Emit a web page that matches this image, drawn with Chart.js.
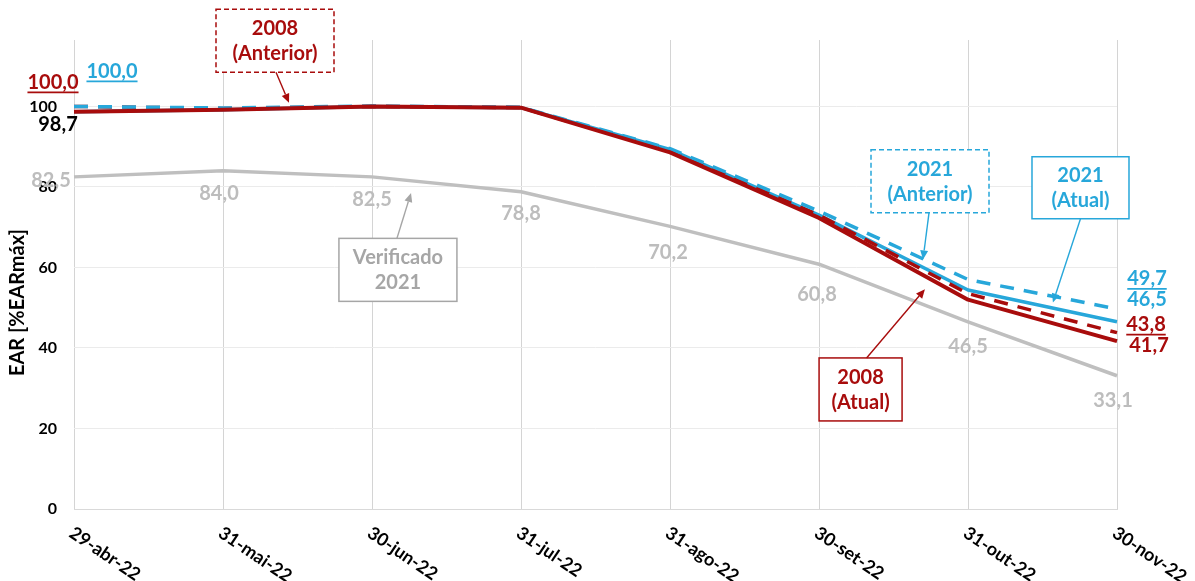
<!DOCTYPE html>
<html>
<head>
<meta charset="utf-8">
<title>EAR [%EARmáx]</title>
<script src="https://cdn.jsdelivr.net/npm/chart.js@4/dist/chart.umd.min.js"></script>
<style>
  html, body { margin: 0; padding: 0; background: #ffffff; }
  #wrap { width: 1195px; height: 581px; }
</style>
</head>
<body>
<div id="wrap"><canvas id="c" width="1195" height="581"></canvas></div>
<script>
// Categories (month-end dates)
const labels = ['29-abr-22', '31-mai-22', '30-jun-22', '31-jul-22', '31-ago-22', '30-set-22', '31-out-22', '30-nov-22'];

// Stored energy, % of maximum
const verified2021 = [82.5, 84.0, 82.5, 78.8, 70.2, 60.8, 46.5, 33.1];
const current2008  = [98.7, 99.2, 100.0, 99.7, 88.6, 72.3, 52.0, 41.7];
const previous2008 = [100.0, 99.5, 100.0, 99.7, 88.9, 73.0, 53.5, 43.8];
const current2021  = [98.7, 99.2, 100.0, 99.7, 89.3, 73.0, 54.4, 46.5];
const previous2021 = [100.0, 99.6, 100.1, 99.8, 89.5, 74.0, 57.0, 49.7];

// Y axis tick values
const yTickValues = [0, 20, 40, 60, 80, 100];

const RED = '#A80C0C';
const BLUE = '#27A7DA';
const GRAY = '#BFBFBF';
const GRAY_TEXT = '#BDBDBD';
const FONT = 'Lato, "Open Sans", "DejaVu Sans", sans-serif';

const fmt = v => v.toFixed(1).replace('.', ',');

// Value labels attached to points: dataset key, point index, pixel offset
const valueNotes = [
  { set: 'verified', i: 0, dx: -23, dy: 4, color: GRAY_TEXT },
  { set: 'verified', i: 1, dx: -4, dy: 23, color: GRAY_TEXT },
  { set: 'verified', i: 2, dx: 0, dy: 23, color: GRAY_TEXT },
  { set: 'verified', i: 3, dx: 0, dy: 22, color: GRAY_TEXT },
  { set: 'verified', i: 4, dx: -2, dy: 26, color: GRAY_TEXT },
  { set: 'verified', i: 5, dx: -2, dy: 30, color: GRAY_TEXT },
  { set: 'verified', i: 6, dx: 0, dy: 25, color: GRAY_TEXT },
  { set: 'verified', i: 7, dx: -4, dy: 25, color: GRAY_TEXT },
  { set: 'prev2008', i: 0, dx: -21, dy: -24, color: RED, underline: true },
  { set: 'prev2021', i: 0, dx: 38, dy: -35, color: BLUE, underline: true },
  { set: 'cur2008', i: 0, dx: -16, dy: 13, color: '#000000' },
  { set: 'prev2021', i: 7, dx: 30, dy: -30, color: BLUE, underline: true },
  { set: 'cur2021', i: 7, dx: 30, dy: -22, color: BLUE },
  { set: 'prev2008', i: 7, dx: 29, dy: -8, color: RED, underline: true },
  { set: 'cur2008', i: 7, dx: 32, dy: 4, color: RED }
];

// Callout boxes, placed in axis units (category index, value)
const callouts = [
  { lines: ['2008', '(Anterior)'], color: RED, text: RED, dashed: true,
    at: [1.349, 116.3], w: 118, h: 63, side: 'bottom', sdx: 1, tip: [1.443, 100.9] },
  { lines: ['Verificado', '2021'], color: '#A6A6A6', text: '#A6A6A6', dashed: false,
    at: [2.174, 59.4], w: 118, h: 63, side: 'top', sdx: -1, tip: [2.262, 78.5] },
  { lines: ['2021', '(Anterior)'], color: BLUE, text: BLUE, dashed: true,
    at: [5.745, 81.4], w: 118, h: 63, side: 'bottom', sdx: -1, tip: [5.698, 62.0] },
  { lines: ['2021', '(Atual)'], color: BLUE, text: BLUE, dashed: false,
    at: [6.755, 79.8], w: 97, h: 62, side: 'bottom', sdx: 0, tip: [6.570, 51.3] },
  { lines: ['2008', '(Atual)'], color: RED, text: RED, dashed: false,
    at: [5.279, 29.7], w: 83, h: 63, side: 'top', sdx: 6, tip: [5.711, 54.6] }
];

const seriesByKey = {
  verified: verified2021, cur2008: current2008, prev2008: previous2008,
  cur2021: current2021, prev2021: previous2021
};

function drawArrow(ctx, x1, y1, x2, y2, color) {
  const ang = Math.atan2(y2 - y1, x2 - x1);
  const len = 9, half = 4;
  const bx = x2 - len * Math.cos(ang), by = y2 - len * Math.sin(ang);
  ctx.save();
  ctx.strokeStyle = color;
  ctx.fillStyle = color;
  ctx.lineWidth = 1.4;
  ctx.setLineDash([]);
  ctx.beginPath();
  ctx.moveTo(x1, y1);
  ctx.lineTo(bx, by);
  ctx.stroke();
  ctx.beginPath();
  ctx.moveTo(x2, y2);
  ctx.lineTo(bx + half * Math.sin(ang), by - half * Math.cos(ang));
  ctx.lineTo(bx - half * Math.sin(ang), by + half * Math.cos(ang));
  ctx.closePath();
  ctx.fill();
  ctx.restore();
}

const notesPlugin = {
  id: 'notes',
  afterDraw(chart) {
    const ctx = chart.ctx;
    const xs = chart.scales.x, ys = chart.scales.y;
    const px = i => xs.left + (xs.right - xs.left) * i / (labels.length - 1);

    // x tick labels, slanted downward
    ctx.save();
    ctx.font = 'bold 18px ' + FONT;
    ctx.fillStyle = '#000000';
    ctx.textAlign = 'left';
    ctx.textBaseline = 'alphabetic';
    labels.forEach((lab, i) => {
      const x = xs.getPixelForValue(i);
      ctx.save();
      ctx.translate(x - 6, xs.top + 27);
      ctx.rotate(34 * Math.PI / 180);
      ctx.fillText(lab, 0, 0);
      ctx.restore();
    });
    ctx.restore();

    // y axis title
    ctx.save();
    ctx.font = 'bold 20px ' + FONT;
    ctx.fillStyle = '#000000';
    ctx.textAlign = 'center';
    ctx.textBaseline = 'middle';
    ctx.translate(18, ys.getPixelForValue(51.3));
    ctx.rotate(-Math.PI / 2);
    ctx.fillText('EAR [%EARmáx]', 0, 0);
    ctx.restore();

    // value labels
    ctx.save();
    ctx.textAlign = 'center';
    ctx.textBaseline = 'middle';
    ctx.font = 'bold 20px ' + FONT;
    valueNotes.forEach(n => {
      const v = seriesByKey[n.set][n.i];
      const x = xs.getPixelForValue(n.i) + n.dx;
      const y = ys.getPixelForValue(v) + n.dy;
      ctx.fillStyle = n.color;
      const txt = fmt(v);
      ctx.fillText(txt, x, y);
      if (n.underline) {
        const w = ctx.measureText(txt).width;
        ctx.strokeStyle = n.color;
        ctx.lineWidth = 1.6;
        ctx.beginPath();
        ctx.moveTo(x - w / 2, y + 10);
        ctx.lineTo(x + w / 2, y + 10);
        ctx.stroke();
      }
    });
    ctx.restore();

    // callout boxes with arrows
    callouts.forEach(c => {
      const cx = px(c.at[0]);
      const cy = ys.getPixelForValue(c.at[1]);
      const left = cx - c.w / 2, top = cy - c.h / 2;
      ctx.save();
      ctx.fillStyle = '#ffffff';
      ctx.fillRect(left, top, c.w, c.h);
      ctx.strokeStyle = c.color;
      ctx.lineWidth = 1.5;
      ctx.setLineDash(c.dashed ? [5, 3] : []);
      ctx.strokeRect(left, top, c.w, c.h);
      ctx.setLineDash([]);
      ctx.font = 'bold 20px ' + FONT;
      ctx.fillStyle = c.text;
      ctx.textAlign = 'center';
      ctx.textBaseline = 'middle';
      ctx.fillText(c.lines[0], cx, cy - 12);
      ctx.fillText(c.lines[1], cx, cy + 13);
      ctx.restore();
      const sx = cx + c.sdx;
      const sy = c.side === 'top' ? top : top + c.h;
      drawArrow(ctx, sx, sy, px(c.tip[0]), ys.getPixelForValue(c.tip[1]), c.color);
    });
  }
};

const line = (label, data, color, width, dash, order) => ({
  label, data, borderColor: color, backgroundColor: color,
  borderWidth: width, borderDash: dash, borderCapStyle: 'butt',
  borderJoinStyle: 'round', pointRadius: 0, pointHoverRadius: 0,
  tension: 0, fill: false, order
});

new Chart(document.getElementById('c'), {
  type: 'line',
  data: {
    labels,
    datasets: [
      line('2008 (Atual)', current2008, RED, 4, [], 1),
      line('2021 (Anterior)', previous2021, BLUE, 3.5, [14, 10], 2),
      line('2008 (Anterior)', previous2008, RED, 3.5, [14, 10], 3),
      line('2021 (Atual)', current2021, BLUE, 3.5, [], 4),
      line('Verificado 2021', verified2021, GRAY, 3.5, [], 5)
    ]
  },
  options: {
    responsive: false,
    animation: false,
    events: [],
    layout: { padding: { top: 40, right: 78, left: 0, bottom: 0 } },
    plugins: { legend: { display: false }, tooltip: { enabled: false } },
    scales: {
      x: {
        offset: false,
        grid: { color: '#D4D4D4', lineWidth: 1, drawTicks: false },
        border: { display: true, color: '#D9D9D9' },
        ticks: { display: false },
        afterFit: s => { s.height = 72; }
      },
      y: {
        min: 0,
        max: 116.5,
        grid: { color: '#EBEBEB', lineWidth: 1, drawTicks: false },
        border: { display: false },
        afterBuildTicks: s => { s.ticks = yTickValues.map(v => ({ value: v })); },
        ticks: {
          padding: 17,
          color: '#000000',
          font: { family: FONT, size: 16, weight: 'bold' },
          callback: v => String(v)
        },
        afterFit: s => { s.width = 74; }
      }
    }
  },
  plugins: [notesPlugin]
});
</script>
</body>
</html>
